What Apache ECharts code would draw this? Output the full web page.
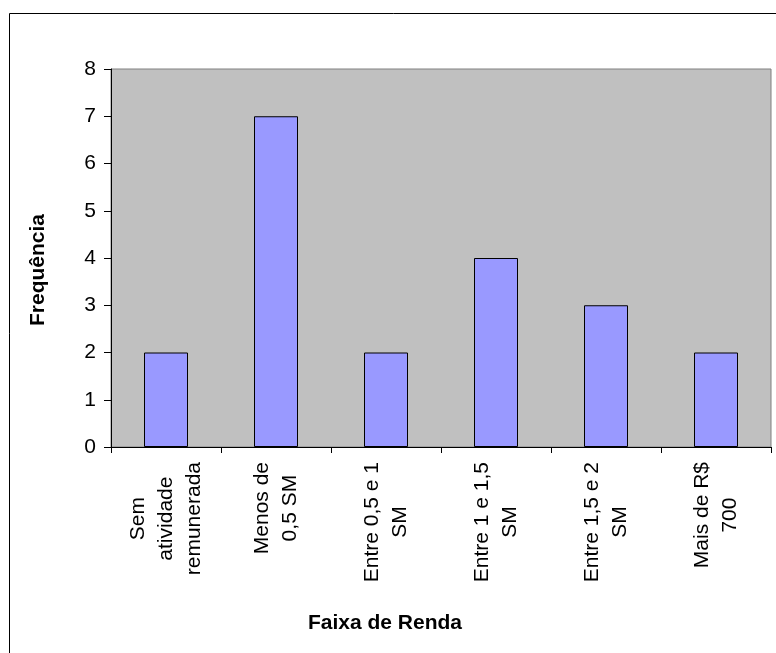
<!DOCTYPE html>
<html>
<head>
<meta charset="utf-8">
<script src="https://cdn.jsdelivr.net/npm/echarts@6/dist/echarts.min.js"></script>
<style>
  html, body { margin: 0; padding: 0; background: #ffffff; }
  #chart { width: 776px; height: 653px; }
</style>
</head>
<body>
<div id="chart"></div>
<script>
// Income brackets (line breaks as shown on the axis)
const categories = [
  'Sem\natividade\nremunerada',
  'Menos de\n0,5 SM',
  'Entre 0,5 e 1\nSM',
  'Entre 1 e 1,5\nSM',
  'Entre 1,5 e 2\nSM',
  'Mais de R$\n700'
];
// Frequency per bracket
const frequencies = [2, 7, 2, 4, 3, 2];
// Value axis ticks
const yTicks = [0, 1, 2, 3, 4, 5, 6, 7, 8];

const FONT = "'Liberation Sans', Arial, Helvetica, sans-serif";

const chart = echarts.init(document.getElementById('chart'), null, { renderer: 'canvas' });

chart.setOption({
  backgroundColor: '#ffffff',
  animation: false,
  graphic: [{
    type: 'rect',
    silent: true,
    shape: { x: 9.5, y: 13.5, width: 900, height: 800 },
    style: { fill: 'none', stroke: '#000000', lineWidth: 1 },
    z: 100
  }],
  grid: {
    left: 111, top: 69, right: 5, bottom: 206,
    show: true,
    backgroundColor: '#C0C0C0',
    borderColor: '#808080',
    borderWidth: 1
  },
  xAxis: {
    type: 'category',
    data: categories,
    name: 'Faixa de Renda',
    nameLocation: 'middle',
    nameGap: 166,
    nameTextStyle: {
      fontFamily: FONT, fontSize: 21, fontWeight: 'bold', color: '#000',
      padding: [0, 112, 0, 0]
    },
    axisLine: { show: true, lineStyle: { color: '#000', width: 1 } },
    axisTick: { show: true, alignWithLabel: false, length: 6, lineStyle: { color: '#000' } },
    axisLabel: {
      rotate: 90,
      margin: 15,
      interval: 0,
      fontFamily: FONT, fontSize: 21, color: '#000',
      formatter: function (v) {
        return v.split('\n').map(function (s) { return '{c|' + s + '}'; }).join('\n');
      },
      rich: {
        c: { align: 'center', fontFamily: FONT, fontSize: 21, color: '#000', lineHeight: 28 }
      }
    },
    splitLine: { show: false }
  },
  yAxis: {
    type: 'value',
    min: yTicks[0],
    max: yTicks[yTicks.length - 1],
    interval: 1,
    name: 'Frequência',
    nameLocation: 'middle',
    nameGap: 62,
    nameTextStyle: {
      fontFamily: FONT, fontSize: 21, fontWeight: 'bold', color: '#000',
      padding: [0, 24, 0, 0]
    },
    axisLine: { show: true, lineStyle: { color: '#000', width: 1 } },
    axisTick: { show: true, length: 7, lineStyle: { color: '#000' } },
    axisLabel: { margin: 15, fontFamily: FONT, fontSize: 21, color: '#000' },
    splitLine: { show: false }
  },
  series: [{
    type: 'bar',
    data: frequencies,
    barWidth: '40%',
    itemStyle: { color: '#9999FF', borderColor: '#000000', borderWidth: 1 }
  }]
});
</script>
</body>
</html>
